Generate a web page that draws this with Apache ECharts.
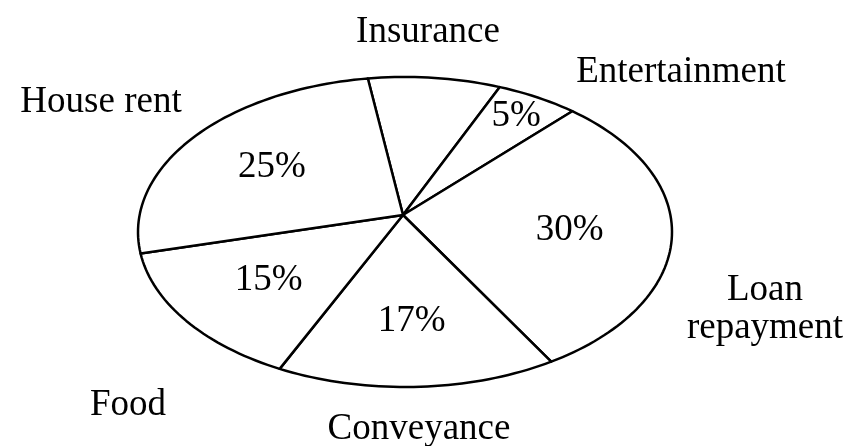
<!DOCTYPE html>
<html><head><meta charset="utf-8">
<script src="https://cdn.jsdelivr.net/npm/echarts@6/dist/echarts.min.js"></script>
<style>html,body{margin:0;padding:0;background:#fff}#c{width:846px;height:446px}</style>
</head><body><div id="c"></div>
<script>
// ---- data ----
const categories = ['Insurance', 'Entertainment', 'Loan\nrepayment', 'Conveyance', 'Food', 'House rent'];
const values = [8, 5, 30, 17, 15, 25];
const valueLabels = ['', '5%', '30%', '17%', '15%', '25%'];

// ---- layout (not data) ----
const CX = 405, CY = 232, RX = 267, RY = 155;   // ellipse
const AX = 403, AY = 215;                        // pie apex (perspective)
const START = 98;                                // start angle, degrees
const nameAnchors = [[428, 32], [681, 72], [765, 309], [419, 429], [128, 405], [101, 102]];
const FONT = '37px "Liberation Serif", "Times New Roman", serif';

const total = values.reduce((a, b) => a + b, 0);
const starts = []; let acc = 0;
values.forEach(v => { starts.push(acc); acc += v; });

function pt(deg) {
  const r = deg * Math.PI / 180;
  return [CX + RX * Math.cos(r), CY - RY * Math.sin(r)];
}

function textEl(str, x, y) {
  return { type: 'text', style: {
    text: str, x: x, y: y, font: FONT, fill: '#000', lineHeight: 38,
    align: 'center', verticalAlign: 'middle', textAlign: 'center', textVerticalAlign: 'middle' } };
}

function renderItem(params, api) {
  const i = params.dataIndex;
  const v = api.value(0);
  const a0 = START - starts[i] / total * 360;
  const a1 = a0 - v / total * 360;
  const pts = [[AX, AY]];
  const n = Math.max(12, Math.ceil((a0 - a1) / 1.5));
  for (let k = 0; k <= n; k++) pts.push(pt(a0 + (a1 - a0) * k / n));
  const mp = pt((a0 + a1) / 2);
  const f = v / total < 0.1 ? 0.84 : 0.62;   // narrow slices: label further out
  const lx = AX + (mp[0] - AX) * f, ly = AY + (mp[1] - AY) * f;
  const children = [{
    type: 'polygon', shape: { points: pts },
    style: { fill: '#fff', stroke: '#000', lineWidth: 2.5, lineJoin: 'round' }
  }];
  if (valueLabels[i]) children.push(textEl(valueLabels[i], lx, ly));
  const na = nameAnchors[i];
  children.push(textEl(categories[i], na[0], na[1]));
  return { type: 'group', children };
}

const chart = echarts.init(document.getElementById('c'), null, { renderer: 'canvas' });
chart.setOption({
  backgroundColor: '#fff',
  animation: false,
  series: [{
    type: 'custom',
    coordinateSystem: 'none',
    renderItem: renderItem,
    data: values.map((v, i) => ({ name: categories[i], value: [v] }))
  }]
});
</script>
</body></html>
